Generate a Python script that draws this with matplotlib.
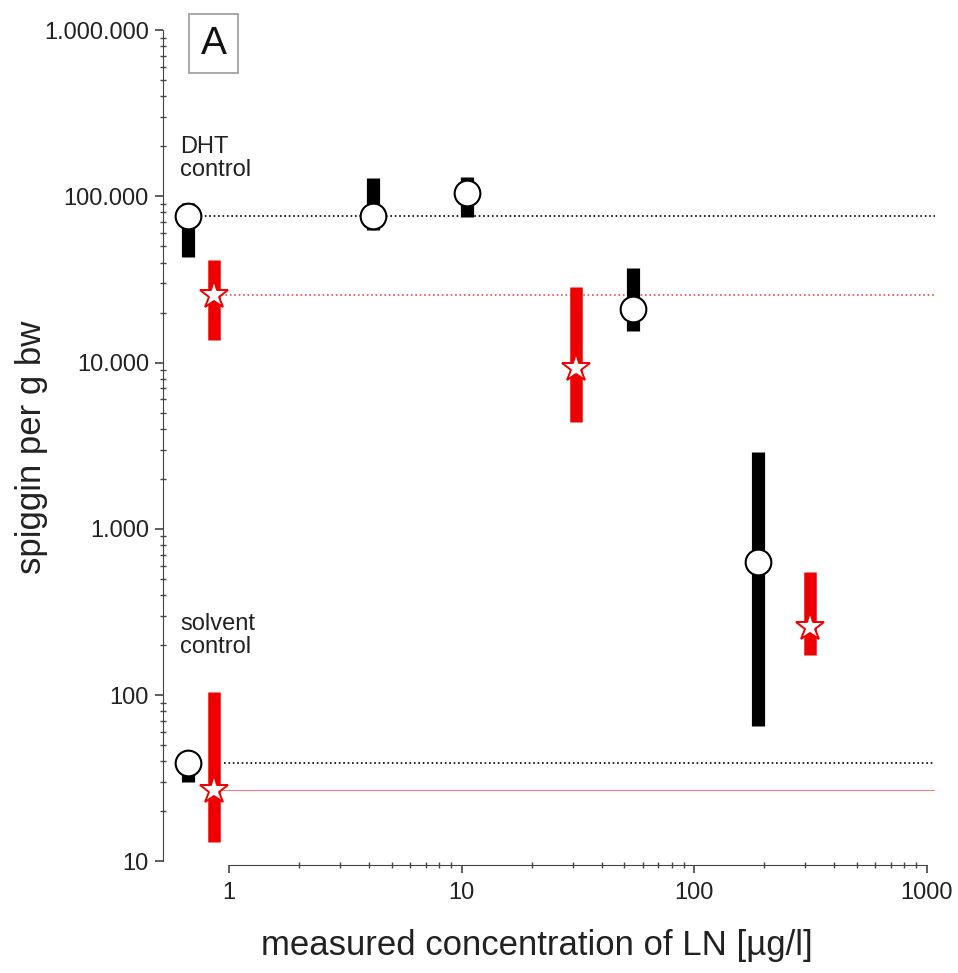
import matplotlib
matplotlib.use("Agg")
import matplotlib.pyplot as plt
from matplotlib.ticker import FuncFormatter, FixedLocator, NullFormatter

plt.rcParams['font.family'] = ['Liberation Sans', 'DejaVu Sans']

# black circles (DHT control + LN exposures)
blk_x = [0.667, 4.16, 10.5, 54.5, 188]
blk_y = [76000, 76000, 105000, 21000, 635]
blk_lo = [43000, 63000, 75000, 15500, 65]
blk_hi = [91000, 129000, 131000, 37000, 2900]

# red stars
red_x = [0.86, 31, 314]
red_y = [25500, 9300, 258]
red_lo = [13700, 4400, 175]
red_hi = [41500, 28600, 553]

# solvent controls
sol_blk_x, sol_blk_y, sol_blk_lo, sol_blk_hi = 0.667, 38.8, 30, 42
sol_red_x, sol_red_y, sol_red_lo, sol_red_hi = 0.86, 26.7, 13, 105

x_major = [1, 10, 100, 1000]
x_minor = [m * 10 ** k for k in range(3) for m in range(2, 10)]
y_major = [10, 100, 1000, 10000, 100000, 1000000]
y_minor = [m * 10 ** k for k in range(1, 6) for m in range(2, 10)]

fig = plt.figure(figsize=(9.58, 9.73), dpi=100)
ax = fig.add_axes([0.170, 0.111, 0.806, 0.858])
ax.set_xscale('log')
ax.set_yscale('log')
ax.set_xlim(0.52, 1083)
ax.set_ylim(9.5, 1e6)

# reference lines for the controls
ax.plot([0.72, 1083], [blk_y[0], blk_y[0]], ls=':', color='black', lw=1.2, zorder=1)
ax.plot([0.92, 1083], [red_y[0], red_y[0]], ls=':', color='#e05050', lw=1.2, zorder=1)
ax.plot([0.95, 1083], [sol_blk_y, sol_blk_y], ls=':', color='black', lw=1.2, zorder=1)
ax.plot([0.92, 1083], [sol_red_y, sol_red_y], ls='-', color='#f08080', lw=0.8, zorder=1)

# error bars as thick bars
ax.vlines(blk_x, blk_lo, blk_hi, color='black', lw=9.5, capstyle='butt', zorder=2)
ax.vlines([sol_blk_x], [sol_blk_lo], [sol_blk_hi], color='black', lw=9.5, capstyle='butt', zorder=2)
ax.vlines(red_x, red_lo, red_hi, color='#ee0000', lw=9, capstyle='butt', zorder=2)
ax.vlines([sol_red_x], [sol_red_lo], [sol_red_hi], color='#ee0000', lw=9, capstyle='butt', zorder=2)

# markers
ax.plot(blk_x, blk_y, 'o', ms=18.5, mfc='white', mec='black', mew=1.5, ls='none', zorder=3)
ax.plot([sol_blk_x], [sol_blk_y], 'o', ms=18.5, mfc='white', mec='black', mew=1.5, zorder=3)
ax.plot(red_x, red_y, '*', ms=21, mfc='white', mec='#ee0000', mew=1.4, ls='none', zorder=4)
ax.plot([sol_red_x], [sol_red_y], '*', ms=21, mfc='white', mec='#ee0000', mew=1.4, zorder=4)

# spines
for s in ['top', 'right']:
    ax.spines[s].set_visible(False)
ax.spines['bottom'].set_bounds(1, 1000)
ax.spines['left'].set_bounds(10, 1e6)
ax.spines['bottom'].set_color('#444444')
ax.spines['left'].set_color('#444444')

ax.xaxis.set_major_locator(FixedLocator(x_major))
ax.xaxis.set_major_formatter(FuncFormatter(lambda v, p: f"{int(round(v))}"))
ax.xaxis.set_minor_locator(FixedLocator(x_minor))
ax.xaxis.set_minor_formatter(NullFormatter())
ax.yaxis.set_major_locator(FixedLocator(y_major))
ax.yaxis.set_major_formatter(FuncFormatter(lambda v, p: f"{int(round(v)):,}".replace(',', '.')))
ax.yaxis.set_minor_locator(FixedLocator(y_minor))
ax.yaxis.set_minor_formatter(NullFormatter())

ax.tick_params(axis='both', which='major', direction='out', length=6, width=1.2,
               labelsize=17, colors='#444444', labelcolor='#222222')
ax.tick_params(axis='x', which='major', pad=6)
ax.tick_params(axis='y', which='major', pad=4)
ax.tick_params(axis='both', which='minor', direction='inout', length=5, width=1, colors='#444444')

ax.set_xlabel('measured concentration of LN [µg/l]', fontsize=25, color='#222222',
              ha='center', va='center')
ax.xaxis.set_label_coords(0.484, -0.097)
ax.set_ylabel('spiggin per g bw', fontsize=25, color='#222222', ha='center', va='center')
ax.yaxis.set_label_coords(-0.170, 0.50)

ax.text(0.618, 170000, 'DHT\ncontrol', fontsize=17, ha='left', va='center',
        linespacing=1.05, color='#222222')
ax.text(0.618, 228, 'solvent\ncontrol', fontsize=17, ha='left', va='center',
        linespacing=1.05, color='#222222')

ax.text(0.066, 0.984, 'A', transform=ax.transAxes, fontsize=28, ha='center', va='center',
        color='#111111',
        bbox=dict(boxstyle='square,pad=0.3', fc='white', ec='#999999', lw=1.2))

fig.savefig('out.png', dpi=100)
